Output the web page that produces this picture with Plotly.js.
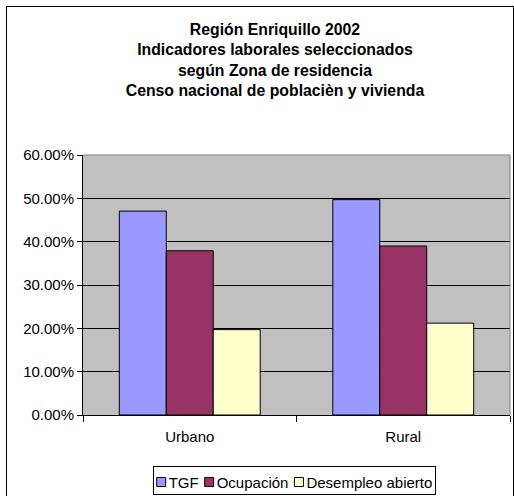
<!DOCTYPE html>
<html>
<head>
<meta charset="utf-8">
<script src="https://cdn.plot.ly/plotly-3.0.1.min.js"></script>
<style>
html,body{margin:0;padding:0;background:#fff;}
#wrap{position:relative;width:514px;height:496px;}
#chart{width:514px;height:496px;}
#frame{position:absolute;left:6px;top:6px;width:508px;height:494px;border:1px solid #000;box-sizing:border-box;pointer-events:none;}
</style>
</head>
<body>
<div id="wrap"><div id="chart"></div><div id="frame"></div></div>
<script>
const categories = ["Urbano", "Rural"];
const seriesNames = ["TGF", "Ocupación", "Desempleo abierto"];
const tgf = [0.4705, 0.497];
const ocupacion = [0.379, 0.390];
const desempleo = [0.197, 0.212];
const colors = ["#9999FF", "#993366", "#FFFFCC"];
const titleLines = ["Región Enriquillo 2002", "Indicadores laborales seleccionados", "según Zona de residencia", "Censo nacional de poblacièn y vivienda"];

const values = [tgf, ocupacion, desempleo];
const traces = values.map((v, i) => ({
  type: "bar",
  x: categories,
  y: v,
  name: seriesNames[i],
  marker: {color: colors[i], line: {color: "#000", width: 1}},
  hoverinfo: "skip"
}));

const font = {family: "Liberation Sans, Arial, sans-serif", size: 15, color: "#000"};

const layout = {
  width: 514, height: 496,
  margin: {l: 83, r: 4, t: 155, b: 81},
  paper_bgcolor: "#fff",
  plot_bgcolor: "#C0C0C0",
  font: font,
  barmode: "group",
  bargap: 0.34,
  bargroupgap: 0,
  title: {
    text: "<b>" + titleLines.join("<br>") + "</b>",
    font: {family: "Liberation Sans, Arial, sans-serif", size: 15.8, color: "#000"},
    x: 0.535, xanchor: "center", xref: "container",
    y: 0.93, yanchor: "top", yref: "container"
  },
  xaxis: {
    type: "category",
    showline: true, linecolor: "#000", linewidth: 1,
    ticks: "outside", tickson: "boundaries", ticklen: 6, tickcolor: "#000",
    ticklabelstandoff: 8,
    showgrid: false, zeroline: false,
    tickfont: font
  },
  yaxis: {
    range: [0, 0.6], dtick: 0.1, tickformat: ".2%",
    showline: true, linecolor: "#000", linewidth: 1,
    ticks: "outside", ticklen: 5, tickcolor: "#000",
    showgrid: true, gridcolor: "#000", gridwidth: 1,
    zeroline: false,
    tickfont: font
  },
  showlegend: true,
  legend: {
    orientation: "h",
    x: 0.5, xanchor: "center",
    y: 0.5, yanchor: "middle",
    bordercolor: "#000", borderwidth: 1, bgcolor: "#fff",
    font: font,
    itemwidth: 30,
    tracegroupgap: 0
  },
  shapes: [
    {type: "line", xref: "paper", yref: "paper", x0: 0, x1: 1, y0: 1, y1: 1, line: {color: "#808080", width: 1}},
    {type: "line", xref: "paper", yref: "paper", x0: 1, x1: 1, y0: 0, y1: 1, line: {color: "#808080", width: 1}}
  ]
};

Plotly.newPlot("chart", traces, layout, {displayModeBar: false, staticPlot: true}).then(function (gd) {
  // compact the legend entries to look like the original spreadsheet legend
  const leg = gd.querySelector("g.legend");
  if (!leg) return;
  const items = leg.querySelectorAll("g.traces");
  const symSize = 9, gapSymText = 3, gapItems = 6, pad = 4, boxH = 29;
  let x = pad;
  items.forEach(function (it) {
    it.querySelectorAll(".legendpoints path").forEach(function (p) {
      p.setAttribute("d", "M4.5,4.5H-4.5V-4.5H4.5Z");
      p.setAttribute("transform", "translate(4.5,0)");
    });
    const txt = it.querySelector("text.legendtext");
    txt.setAttribute("x", symSize + gapSymText);
    const w = txt.getComputedTextLength();
    it.setAttribute("transform", "translate(" + x + "," + (boxH / 2 + 1.5) + ")");
    const toggle = it.querySelector("rect.legendtoggle");
    if (toggle) toggle.setAttribute("width", symSize + gapSymText + w);
    x += symSize + gapSymText + w + gapItems;
  });
  const width = x - gapItems + pad;
  const bg = leg.querySelector("rect.bg");
  if (bg) {
    bg.setAttribute("x", 0.5); bg.setAttribute("y", 0.5);
    bg.setAttribute("width", width - 1); bg.setAttribute("height", boxH - 1);
  }
  const sb = leg.querySelector(".scrollbox");
  if (sb) {
    sb.setAttribute("transform", "translate(0,0)");
    const cp = sb.getAttribute("clip-path");
    const m = cp && cp.match(/#([^)'"]+)/);
    if (m) {
      const clip = document.getElementById(m[1]);
      const r = clip && clip.querySelector("rect");
      if (r) { r.setAttribute("x", 0); r.setAttribute("y", 0); r.setAttribute("width", width); r.setAttribute("height", boxH); }
    }
  }
  leg.setAttribute("transform", "translate(" + (294.5 - width / 2) + ",466)");
});
</script>
</body>
</html>
